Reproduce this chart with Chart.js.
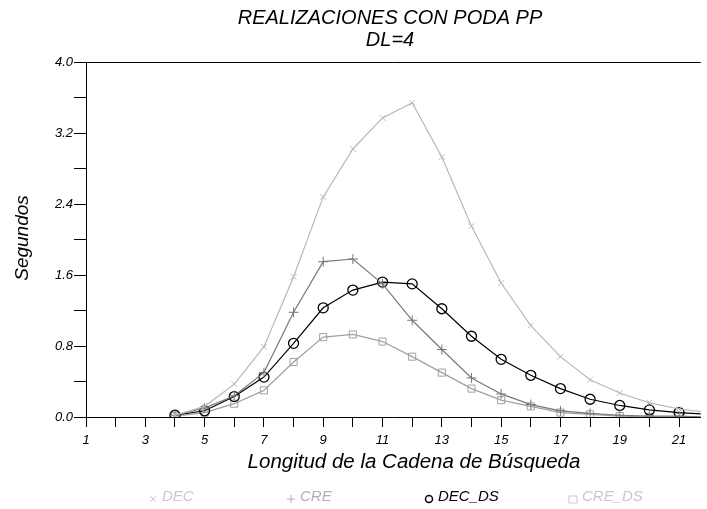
<!DOCTYPE html>
<html><head><meta charset="utf-8">
<script src="https://cdn.jsdelivr.net/npm/chart.js@4.4.1/dist/chart.umd.min.js"></script>
<style>html,body{margin:0;padding:0;background:#fff}#wrap{width:707px;height:509px}</style>
</head><body><div id="wrap"><canvas id="c" width="707" height="509"></canvas></div>
<script>
const xValues = [4,5,6,7,8,9,10,11,12,13,14,15,16,17,18,19,20,21,22];
const decValues   = [0.02,0.12,0.37,0.79,1.58,2.48,3.02,3.37,3.54,2.93,2.15,1.51,1.03,0.68,0.42,0.27,0.16,0.09,0.05];
const creValues   = [0.02,0.10,0.24,0.50,1.18,1.75,1.78,1.50,1.09,0.76,0.44,0.26,0.14,0.07,0.04,0.02,0.01,0.01,0.00];
const decDsValues = [0.02,0.07,0.23,0.45,0.83,1.23,1.43,1.52,1.50,1.22,0.91,0.65,0.47,0.32,0.20,0.13,0.08,0.05,0.03];
const creDsValues = [0.01,0.05,0.15,0.30,0.62,0.90,0.93,0.85,0.68,0.50,0.32,0.19,0.12,0.05,0.03,0.01,0.00,0.00,0.00];
const seriesNames = ['DEC','CRE','DEC_DS','CRE_DS'];
const xTickValues = [1,2,3,4,5,6,7,8,9,10,11,12,13,14,15,16,17,18,19,20,21];
const yTickValues = [0,0.4,0.8,1.2,1.6,2.0,2.4,2.8,3.2,3.6,4.0];
const titleLines = ['REALIZACIONES CON PODA PP','DL=4'];
const xTitle = 'Longitud de la Cadena de Búsqueda';
const yTitle = 'Segundos';

const FONT = '"Liberation Sans", Arial, sans-serif';
const pts = arr => xValues.map((x,i)=>({x, y: arr[i]}));

const styles = [
  {color:'#b8b8b8', point:'crossRot', r:4, legendColor:'#c8c8c8', sym:'x'},
  {color:'#787878', point:'cross', r:5, legendColor:'#b0b0b0', sym:'+'},
  {color:'#000000', point:'circle', r:5, legendColor:'#000000', sym:'o'},
  {color:'#a0a0a0', point:'rect', r:5, legendColor:'#c8c8c8', sym:'s'}
];
const allData = [decValues, creValues, decDsValues, creDsValues];

const decor = {
  id:'decor',
  afterDraw(chart){
    const ctx = chart.ctx, a = chart.chartArea;
    ctx.save();
    ctx.strokeStyle = '#000'; ctx.lineWidth = 1;
    ctx.beginPath(); ctx.moveTo(a.left, a.top+0.5); ctx.lineTo(a.right, a.top+0.5); ctx.stroke();
    ctx.fillStyle = '#000';
    ctx.textAlign = 'center'; ctx.textBaseline = 'middle';
    ctx.font = 'italic 20px ' + FONT;
    ctx.fillText(titleLines[0], 390, 18);
    ctx.fillText(titleLines[1], 390, 40);
    ctx.font = 'italic 20.5px ' + FONT;
    ctx.fillText(xTitle, 414, 462);
    ctx.save();
    ctx.font = 'italic 19px ' + FONT;
    ctx.translate(23, 238); ctx.rotate(-Math.PI/2);
    ctx.fillText(yTitle, 0, 0);
    ctx.restore();
    const legendX = [148, 286, 424, 568];
    const ly = 497;
    ctx.font = 'italic 15px ' + FONT;
    ctx.textAlign = 'left';
    seriesNames.forEach((n,i)=>{
      const s = styles[i], x = legendX[i];
      ctx.strokeStyle = s.legendColor; ctx.lineWidth = 1;
      const cx = x+5, cy = ly+2;
      ctx.beginPath();
      if (s.sym==='x'){ ctx.moveTo(cx-3,cy-3); ctx.lineTo(cx+3,cy+3); ctx.moveTo(cx+3,cy-3); ctx.lineTo(cx-3,cy+3); }
      else if (s.sym==='+'){ ctx.moveTo(cx-4,cy); ctx.lineTo(cx+4,cy); ctx.moveTo(cx,cy-4); ctx.lineTo(cx,cy+4); }
      else if (s.sym==='o'){ ctx.lineWidth=1.5; ctx.arc(cx,cy,3.5,0,Math.PI*2); }
      else { ctx.rect(cx-4,cy-3,8,7); }
      ctx.stroke();
      ctx.fillStyle = s.legendColor;
      ctx.fillText(n, x+14, ly);
    });
    ctx.restore();
  }
};

new Chart(document.getElementById('c'), {
  type:'line',
  data:{
    datasets: seriesNames.map((n,i)=>({
      label:n, data:pts(allData[i]),
      borderColor:styles[i].color, borderWidth:1.2,
      pointStyle:styles[i].point, pointRadius:styles[i].r,
      pointBorderColor:styles[i].color, pointBackgroundColor:'rgba(0,0,0,0)',
      pointBorderWidth: i===2 ? 1.3 : 1,
      tension:0, fill:false
    }))
  },
  options:{
    responsive:false, animation:false,
    devicePixelRatio:1,
    layout:{padding:{top:62, right:0, bottom:0, left:0}},
    plugins:{legend:{display:false}, title:{display:false}, tooltip:{enabled:false}},
    scales:{
      x:{
        type:'linear', min:1, max:21.73,
        afterBuildTicks: s => { s.ticks = xTickValues.map(v=>({value:v})); },
        afterFit: s => { s.height = 92; },
        border:{display:true, color:'#000', width:1},
        grid:{drawOnChartArea:false, drawTicks:true, tickLength:10, color:'#000'},
        ticks:{autoSkip:false, maxRotation:0, padding:6, color:'#000',
          font:{family:FONT, style:'italic', size:13},
          callback: v => (Math.round(v)%2===1 ? String(Math.round(v)) : '')}
      },
      y:{
        type:'linear', min:0, max:4,
        afterBuildTicks: s => { s.ticks = yTickValues.map(v=>({value:v})); },
        afterFit: s => { s.width = 86; },
        border:{display:true, color:'#000', width:1},
        grid:{drawOnChartArea:false, drawTicks:true, tickLength:12, color:'#000'},
        ticks:{padding:1, color:'#000',
          font:{family:FONT, style:'italic', size:13},
          callback: v => (Math.round(v/0.4)%2===0 ? v.toFixed(1) : '')}
      }
    }
  },
  plugins:[decor]
});
</script></body></html>
